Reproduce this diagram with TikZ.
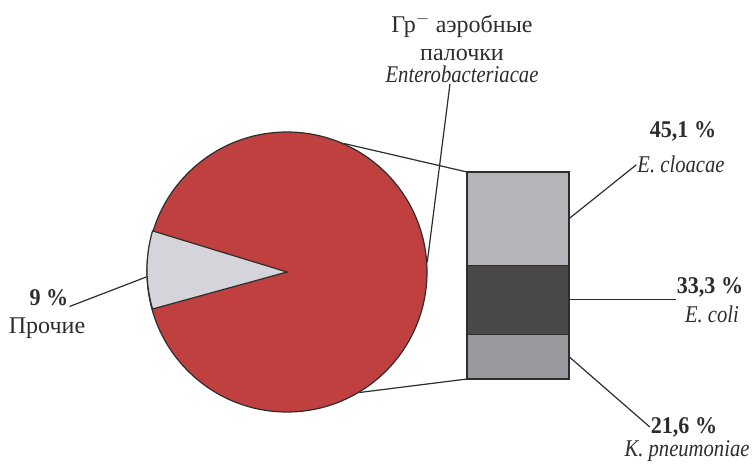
\documentclass[tikz,border=0pt]{standalone}
\usepackage{fontspec}
\setmainfont{Liberation Serif}[ItalicFeatures={FakeStretch=0.86},BoldFeatures={FakeStretch=0.92}]
\usepackage{tikz}
\usetikzlibrary{positioning}
\definecolor{piered}{RGB}{191,64,62}
\definecolor{wedgegrey}{RGB}{212,212,218}
\definecolor{barlight}{RGB}{180,180,185}
\definecolor{bardark}{RGB}{74,72,72}
\definecolor{barmid}{RGB}{152,152,157}
\definecolor{linegrey}{RGB}{45,45,45}

\begin{document}
\begin{tikzpicture}[
    x=1pt, y=1pt,
    node distance=0pt,
    lab/.style={inner sep=1pt, anchor=base, font=\fontsize{24}{28}\selectfont, text=linegrey},
    seg/.style={draw=linegrey, line width=1.2pt, minimum width=102pt, inner sep=0pt, outer sep=0pt},
    lead/.style={draw=linegrey, line width=1.2pt}
]
\useasboundingbox (0,0) rectangle (754,469);
% pie
\node[circle, draw=linegrey, line width=1.2pt, fill=piered, minimum size=280pt, inner sep=0pt] (pie) at (287,197) {};
\filldraw[fill=wedgegrey, draw=linegrey, line width=1.2pt] (pie.center) -- (pie.163.8) arc[start angle=163.8, end angle=196.2, radius=140pt] -- cycle;
% bar
\node[seg, fill=barlight, minimum height=93.4pt, anchor=north west] (cloacae) at (467,297) {};
\node[seg, fill=bardark, minimum height=68.9pt, below=of cloacae] (coli) {};
\node[seg, fill=barmid, minimum height=44.7pt, below=of coli] (pneu) {};
\draw[lead] (pie.66) -- (cloacae.north west);
\draw[lead] (pie.-59) -- (pneu.south west);
% labels
\node[lab, align=center, anchor=north] (grp) at (462,457) {Гр$^{-}$ аэробные\\палочки\\[-6pt]\textit{Enterobacteriacae}};
\node[lab] (p45) at (683,331) {\textbf{45,1 \%}};
\node[lab] (ncl) at (681,296) {\textit{E. cloacae}};
\node[lab] (p33) at (710,176) {\textbf{33,3 \%}};
\node[lab] (nco) at (712,147) {\textit{E. coli}};
\node[lab] (p216) at (684,36) {\textbf{21,6 \%}};
\node[lab] (npn) at (687,13) {\textit{K. pneumoniae}};
\node[lab] (p9) at (49,164) {\textbf{9 \%}};
\node[lab] (oth) at (47,136) {Прочие};
% leaders
\draw[lead] ([xshift=-12pt]grp.south) -- (pie.4);
\draw[lead] (cloacae.east) -- (ncl.west);
\draw[lead] (coli.east) -- (coli.east -| p33.west);
\draw[lead] (pneu.east) -- (p216.west);
\draw[lead] (pie.182) -- (p9.south east);
\end{tikzpicture}
\end{document}
